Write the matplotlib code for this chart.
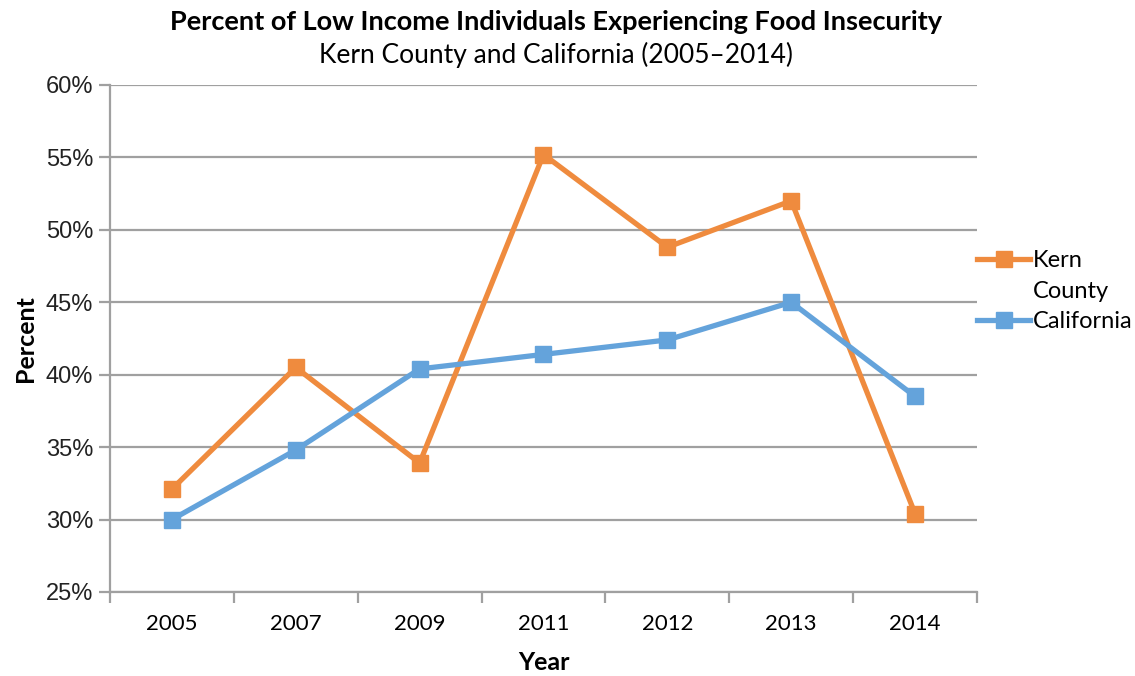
import matplotlib.pyplot as plt
from matplotlib.ticker import FuncFormatter

# Datos
anios = ["2005", "2007", "2009", "2011", "2012", "2013", "2014"]
kern = [32.1, 40.5, 33.9, 55.2, 48.8, 52.0, 30.4]
california = [30.0, 34.8, 40.4, 41.4, 42.4, 45.0, 38.5]

naranja = "#EF8B3E"
azul = "#64A3DB"
gris = "#A0A0A0"
fuente = ["Lato", "DejaVu Sans"]

fig = plt.figure(figsize=(11.35, 6.76), dpi=100)
ax = fig.add_axes([0.0969, 0.1243, 0.7639, 0.75])

x = list(range(len(anios)))
ax.plot(x, kern, color=naranja, lw=3.8, marker="s", ms=12, label="Kern", zorder=3)
ax.plot(x, california, color=azul, lw=3.8, marker="s", ms=12, label="California", zorder=3)

ax.set_xlim(-0.5, len(anios) - 0.5)
ax.set_ylim(25, 60)
ax.set_yticks(range(25, 61, 5))
ax.yaxis.set_major_formatter(FuncFormatter(lambda v, p: f"{v:.0f}%"))
ax.grid(axis="y", color=gris, lw=1.6, zorder=0)

# Ejes de categorías: marcas entre los años
ax.set_xticks([i - 0.5 for i in range(len(anios) + 1)])
ax.set_xticklabels([])
ax.set_xticks(x, minor=True)
ax.set_xticklabels(anios, minor=True, fontsize=16, family=fuente)
ax.tick_params(axis="x", which="minor", length=0, pad=16)
ax.tick_params(axis="x", which="major", length=8, width=1.6, color=gris)
ax.tick_params(axis="y", length=8, width=1.6, color=gris, labelsize=17, pad=4)
for lbl in ax.get_yticklabels():
    lbl.set_family(["Liberation Sans", "DejaVu Sans"])
    lbl.set_color("#222222")

for lado in ["top", "right"]:
    ax.spines[lado].set_visible(False)
for lado in ["left", "bottom"]:
    ax.spines[lado].set_color(gris)
    ax.spines[lado].set_linewidth(1.6)

ax.set_xlabel("Year", fontsize=18, fontweight="bold", family=fuente, labelpad=12)
ax.set_ylabel("Percent", fontsize=18, fontweight="bold", family=fuente, labelpad=6)

fig.text(0.49, 0.968, "Percent of Low Income Individuals Experiencing Food Insecurity",
         ha="center", va="center", fontsize=19.5, fontweight="bold", family=fuente)
fig.text(0.49, 0.918, "Kern County and California (2005\u20132014)",
         ha="center", va="center", fontsize=19, family=fuente)

# Leyenda: "Kern County" partido en dos líneas, con la marca junto a "Kern"
leg = fig.legend(loc="center left", bbox_to_anchor=(0.861, 0.569), frameon=False,
                 prop={"family": fuente, "size": 17}, handlelength=2.25,
                 handletextpad=0.1, labelspacing=1.7, borderpad=0, borderaxespad=0)
fig.canvas.draw()
t1, t2 = [t.get_window_extent() for t in leg.get_texts()]
inv = fig.transFigure.inverted()
x0, y1 = inv.transform((t1.x0, (t1.y0 + t1.y1) / 2))
_, y2 = inv.transform((t2.x0, (t2.y0 + t2.y1) / 2))
fig.text(x0, (y1 + y2) / 2, "County", ha="left", va="center", fontsize=17, family=fuente)

fig.savefig("out.png", dpi=100)
